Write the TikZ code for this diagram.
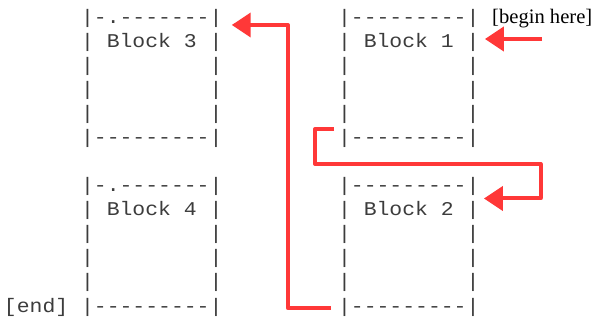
\documentclass[tikz,border=0pt]{standalone}
\usepackage{fontspec}
\setmainfont{Liberation Serif}
\newfontfamily\asciifont[FakeStretch=1.098]{Liberation Mono}
\usetikzlibrary{arrows.meta}
\definecolor{arrowred}{RGB}{255,56,56}
\definecolor{inkgray}{RGB}{60,60,60}
\newcommand{\mono}{\asciifont\fontsize{19.5pt}{24pt}\selectfont}
\newlength{\cw}
\newcommand{\gap}[1]{\hspace*{#1\cw}}
\newcommand{\asciiblock}[2]{\vtop{\mono\settowidth{\cw}{-}\baselineskip=24pt\lineskiplimit=-50pt
  \hbox{#1}
  \hbox{|\gap{1}Block\gap{1}#2\gap{1}|}
  \hbox{|\gap{9}|}
  \hbox{|\gap{9}|}
  \hbox{|\gap{9}|}
  \hbox{|---------|}}}
\tikzset{
  block/.style={anchor=base west, inner sep=0pt, outer sep=0pt, text=inkgray},
  flow/.style={draw=arrowred, line width=4pt, line join=round,
    -{Triangle[length=19pt,width=24pt]}},
}
\begin{document}
\begin{tikzpicture}[x=1pt,y=1pt]
\useasboundingbox (0,0) rectangle (596,-320);
\node[block] (b3) at (81.1,-24) {\asciiblock{|-.-------|}{3}};
\node[block] (b1) at (338.1,-24) {\asciiblock{|---------|}{1}};
\node[block] (b4) at (81.1,-192) {\asciiblock{|-.-------|}{4}};
\node[block] (b2) at (338.1,-192) {\asciiblock{|---------|}{2}};
\node[block] (endlbl) at (4,-312) {\mono [end]};
\node[anchor=base west, inner sep=0pt, text=black,
  font=\fontsize{20.6pt}{24pt}\selectfont] (begin) at (492,-24) {[begin here]};
% arrow 1: begin -> Block 1
\coordinate (a1s) at (542,-39);
\draw[flow, shorten >=5.5pt] (a1s) -- (a1s -| b1.east);
% arrow 2: Block 1 -> Block 2
\coordinate (a2s) at (334,-129);
\coordinate (a2y) at (0,-198.5);
\draw[flow, shorten >=4.5pt] (a2s) -- (315,-129) -- (315,-164) -- (540.5,-164)
  -- (540.5,-198.5) -- (a2y -| b2.east);
% arrow 3: Block 2 -> Block 3
\coordinate (a3s) at (331,-308);
\coordinate (a3y) at (0,-25);
\draw[flow, shorten >=9.3pt] (a3s) -- (287.8,-308) -- (287.8,-25) -- (a3y -| b3.east);
\end{tikzpicture}
\end{document}
